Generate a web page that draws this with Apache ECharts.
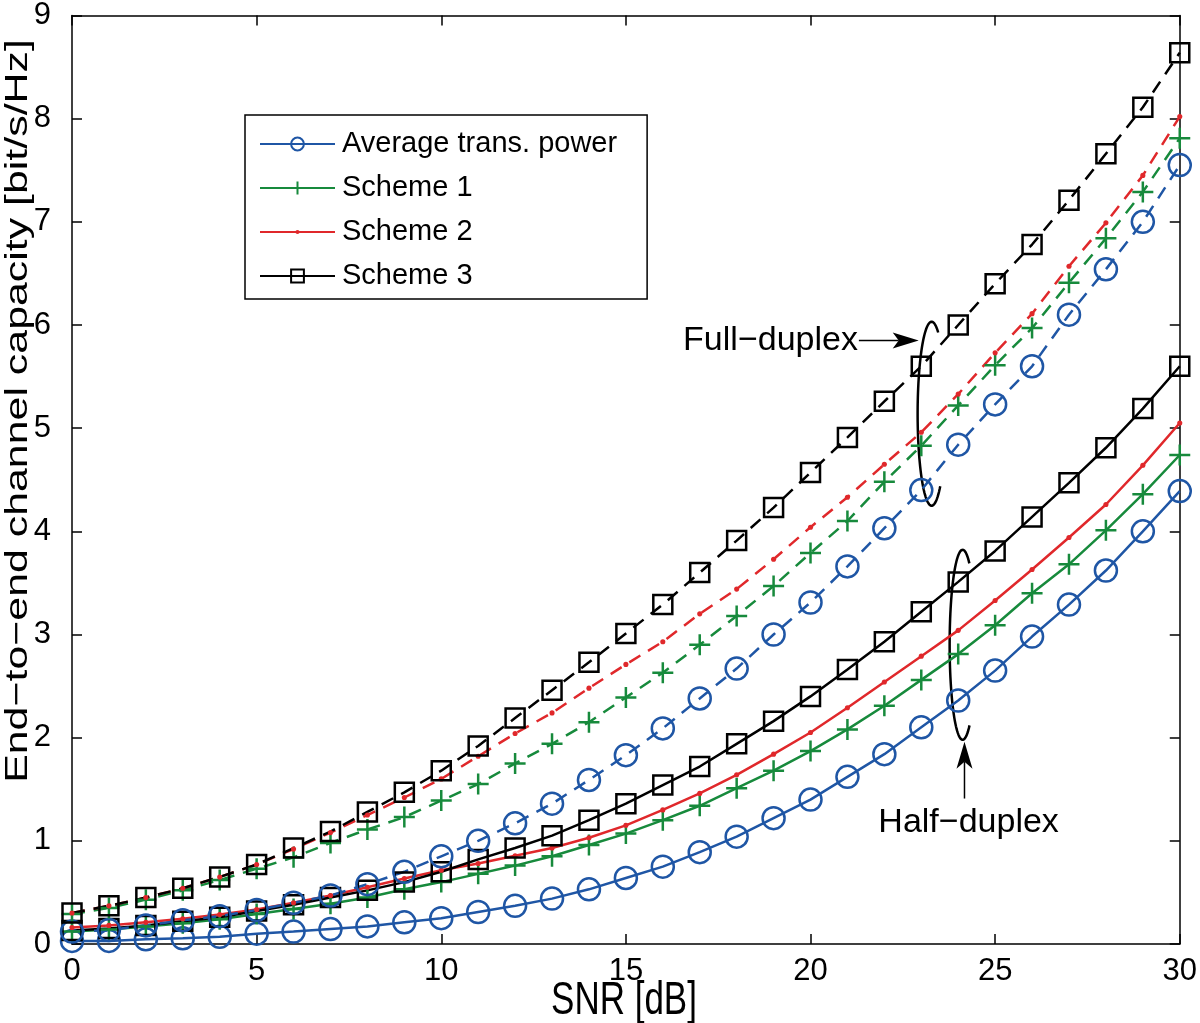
<!DOCTYPE html>
<html>
<head>
<meta charset="utf-8">
<script src="https://cdn.jsdelivr.net/npm/echarts@6/dist/echarts.min.js"></script>
<style>html,body{margin:0;padding:0;background:#fff}#c{width:1200px;height:1023px}</style>
</head>
<body>
<div id="c"></div>
<script>
// ---- data ----
const snr = [0,1,2,3,4,5,6,7,8,9,10,11,12,13,14,15,16,17,18,19,20,21,22,23,24,25,26,27,28,29,30];
const xTicks = [0,5,10,15,20,25,30];
const yTicks = [0,1,2,3,4,5,6,7,8,9];
const seriesNames = ['Average trans. power','Scheme 1','Scheme 2','Scheme 3'];

// Half-duplex (solid)
const hdAvg = [0.03,0.03,0.045,0.055,0.07,0.10,0.12,0.145,0.17,0.21,0.25,0.31,0.37,0.44,0.53,0.64,0.75,0.89,1.04,1.22,1.40,1.62,1.84,2.10,2.36,2.65,2.98,3.29,3.62,4.00,4.39];
const hdS1  = [0.12,0.14,0.17,0.20,0.24,0.29,0.34,0.39,0.45,0.53,0.60,0.68,0.76,0.85,0.96,1.07,1.20,1.34,1.51,1.68,1.87,2.08,2.31,2.56,2.81,3.09,3.40,3.68,4.01,4.36,4.74];
const hdS2  = [0.16,0.18,0.21,0.245,0.285,0.335,0.40,0.47,0.55,0.635,0.715,0.78,0.855,0.93,1.03,1.15,1.30,1.46,1.64,1.84,2.05,2.29,2.54,2.79,3.04,3.33,3.63,3.94,4.26,4.64,5.05];
const hdS3  = [0.13,0.15,0.18,0.22,0.26,0.32,0.38,0.45,0.52,0.60,0.70,0.82,0.93,1.05,1.20,1.36,1.54,1.72,1.94,2.16,2.40,2.66,2.93,3.22,3.51,3.81,4.14,4.47,4.81,5.19,5.60];

// Full-duplex (dashed)
const fdAvg = [0.12,0.135,0.18,0.23,0.27,0.33,0.40,0.47,0.58,0.70,0.85,1.00,1.17,1.36,1.59,1.83,2.09,2.38,2.67,3.00,3.31,3.66,4.03,4.40,4.84,5.23,5.60,6.10,6.54,7.00,7.55];
const fdS1  = [0.29,0.35,0.43,0.52,0.62,0.73,0.84,0.98,1.11,1.23,1.39,1.55,1.75,1.94,2.15,2.39,2.63,2.90,3.18,3.47,3.79,4.10,4.48,4.83,5.22,5.61,5.97,6.41,6.84,7.29,7.81];
const fdS2  = [0.30,0.37,0.45,0.54,0.65,0.77,0.92,1.08,1.25,1.42,1.60,1.82,2.04,2.24,2.48,2.71,2.93,3.20,3.44,3.73,4.04,4.33,4.65,4.96,5.33,5.73,6.11,6.57,6.99,7.45,8.02];
const fdS3  = [0.30,0.37,0.45,0.54,0.65,0.77,0.93,1.09,1.28,1.47,1.68,1.92,2.19,2.46,2.73,3.01,3.29,3.60,3.91,4.23,4.57,4.91,5.26,5.60,6.00,6.40,6.78,7.21,7.66,8.11,8.64];

// ---- styles ----
const BLUE = '#1f56a5', GREEN = '#178a3c', RED = '#e0282b', BLACK = '#000000';
const SYM = {
  circle: {symbol: 'circle', size: 22},
  plus:   {symbol: 'path://M10,0L10,20M0,10L20,10', size: 21},
  dot:    {symbol: 'path://M0,0L0,0M20,20L20,20M13.2,10A3.2,3.2,0,1,1,6.8,10A3.2,3.2,0,1,1,13.2,10Z', size: 16},
  square: {symbol: 'rect', size: 19}
};
const TEXT_FONT = '"Liberation Sans",Arial,Helvetica,sans-serif';

function pairs(vals){ return snr.map((x,i)=>[x, vals[i]]); }

function mk(name, vals, color, sym, dashed){
  const s = SYM[sym];
  const isDot = sym === 'dot';
  return {
    name: name, type: 'line', data: pairs(vals),
    symbol: s.symbol, symbolSize: s.size, showAllSymbol: true,
    lineStyle: {color: color, width: 2.5, type: dashed ? [13, 9] : 'solid'},
    itemStyle: isDot ? {color: color, borderWidth: 0}
                     : {color: 'rgba(0,0,0,0)', borderColor: color, borderWidth: 2.5},
    emphasis: {disabled: true},
    animation: false, z: 3
  };
}

const series = [
  mk(seriesNames[0], hdAvg, BLUE, 'circle', false),
  mk(seriesNames[1], hdS1, GREEN, 'plus', false),
  mk(seriesNames[2], hdS2, RED, 'dot', false),
  mk(seriesNames[3], hdS3, BLACK, 'square', false),
  mk(seriesNames[0], fdAvg, BLUE, 'circle', true),
  mk(seriesNames[1], fdS1, GREEN, 'plus', true),
  mk(seriesNames[2], fdS2, RED, 'dot', true),
  mk(seriesNames[3], fdS3, BLACK, 'square', true)
];

const axisCommon = {
  type: 'value',
  axisLine: {show: true, onZero: false, lineStyle: {color: '#000', width: 1.5}},
  axisTick: {show: true, inside: true, length: 10, lineStyle: {color: '#000', width: 1.5}},
  splitLine: {show: false}
};

const chart = echarts.init(document.getElementById('c'), null, {renderer: 'canvas'});
const option = {
  backgroundColor: '#fff',
  animation: false,
  grid: {left: 72, right: 16, top: 13, bottom: 79, containLabel: false},
  xAxis: [
    Object.assign({}, axisCommon, {
      position: 'bottom', min: xTicks[0], max: xTicks[xTicks.length-1], interval: xTicks[1]-xTicks[0],
      axisLabel: {show: true, margin: 12, color: '#000', fontSize: 31, fontFamily: TEXT_FONT}
    }),
    Object.assign({}, axisCommon, {
      position: 'top', min: xTicks[0], max: xTicks[xTicks.length-1], interval: xTicks[1]-xTicks[0],
      axisLabel: {show: false}
    })
  ],
  yAxis: [
    Object.assign({}, axisCommon, {
      position: 'left', min: yTicks[0], max: yTicks[yTicks.length-1], interval: yTicks[1]-yTicks[0],
      axisLabel: {show: true, margin: 21, color: '#000', fontSize: 31, fontFamily: TEXT_FONT}
    }),
    Object.assign({}, axisCommon, {
      position: 'right', min: yTicks[0], max: yTicks[yTicks.length-1], interval: yTicks[1]-yTicks[0],
      axisLabel: {show: false}
    })
  ],
  legend: {
    show: true, orient: 'vertical', left: 245, top: 115,
    data: seriesNames,
    itemWidth: 75, itemHeight: 16, itemGap: 14,
    padding: [14, 30, 8, 14],
    backgroundColor: '#fff', borderColor: '#000', borderWidth: 1.5, borderRadius: 0,
    textStyle: {color: '#000', fontSize: 29, lineHeight: 30, fontFamily: TEXT_FONT, padding: [0,0,0,2]},
    selectedMode: false
  },
  series: series
};
chart.setOption(option);

// ---- annotations (positioned in data coordinates) ----
function px(x, y){ return chart.convertToPixel({xAxisIndex: 0, yAxisIndex: 0}, [x, y]); }
function ellipseArc(c, rx, ry, a0, a1){
  const pts = [];
  for (let a = a0; a <= a1 + 0.001; a += 3){
    const t = a * Math.PI / 180;
    pts.push([c[0] + rx * Math.cos(t), c[1] + ry * Math.sin(t)]);
  }
  return pts;
}
const fdText = px(21.23, 5.85);
const fdArrowStart = px(21.31, 5.85), fdArrowTip = px(22.93, 5.85);
const fdEll = px(23.28, 5.14);
const hdEll = px(24.12, 2.90);
const hdArrowStart = px(24.17, 1.41), hdArrowTip = px(24.17, 1.96);
const hdText = px(24.2, 1.18);

const graphic = [
  {type: 'text', x: 18, y: 411, rotation: Math.PI/2, scaleX: 1.34, scaleY: 1,
   style: {text: 'End\u2212to\u2212end channel capacity [bit/s/Hz]', fill: '#000', font: '32px ' + TEXT_FONT, align: 'center', verticalAlign: 'middle'}},
  {type: 'text', x: 624, y: 1001, scaleX: 1, scaleY: 1.3,
   style: {text: 'SNR [dB]', fill: '#000', font: '35px ' + TEXT_FONT, align: 'center', verticalAlign: 'middle'}},
  {type: 'text', x: fdText[0] + 2, y: fdText[1],
   style: {text: 'Full\u2212duplex', fill: '#000', font: '34px ' + TEXT_FONT, align: 'right', verticalAlign: 'middle'}},
  {type: 'line', shape: {x1: fdArrowStart[0], y1: fdArrowStart[1], x2: fdArrowTip[0] - 20, y2: fdArrowTip[1]}, style: {stroke: '#000', lineWidth: 1.5}},
  {type: 'polygon', shape: {points: [[fdArrowTip[0], fdArrowTip[1]], [fdArrowTip[0]-26, fdArrowTip[1]-8], [fdArrowTip[0]-20, fdArrowTip[1]], [fdArrowTip[0]-26, fdArrowTip[1]+8]]}, style: {fill: '#000'}},
  {type: 'polyline', shape: {points: ellipseArc(fdEll, 14, 92, 52, 300)}, style: {stroke: '#000', lineWidth: 2.5, fill: null}},
  {type: 'polyline', shape: {points: ellipseArc(hdEll, 13, 95, 58, 302)}, style: {stroke: '#000', lineWidth: 2.5, fill: null}},
  {type: 'line', shape: {x1: hdArrowStart[0], y1: hdArrowStart[1], x2: hdArrowTip[0], y2: hdArrowTip[1] + 20}, style: {stroke: '#000', lineWidth: 1.5}},
  {type: 'polygon', shape: {points: [[hdArrowTip[0], hdArrowTip[1]], [hdArrowTip[0]-8, hdArrowTip[1]+27], [hdArrowTip[0], hdArrowTip[1]+20], [hdArrowTip[0]+8, hdArrowTip[1]+27]]}, style: {fill: '#000'}},
  {type: 'text', x: hdText[0] + 3, y: hdText[1],
   style: {text: 'Half\u2212duplex', fill: '#000', font: '34px ' + TEXT_FONT, align: 'center', verticalAlign: 'middle'}}
];
chart.setOption({graphic: graphic});
</script>
</body>
</html>
